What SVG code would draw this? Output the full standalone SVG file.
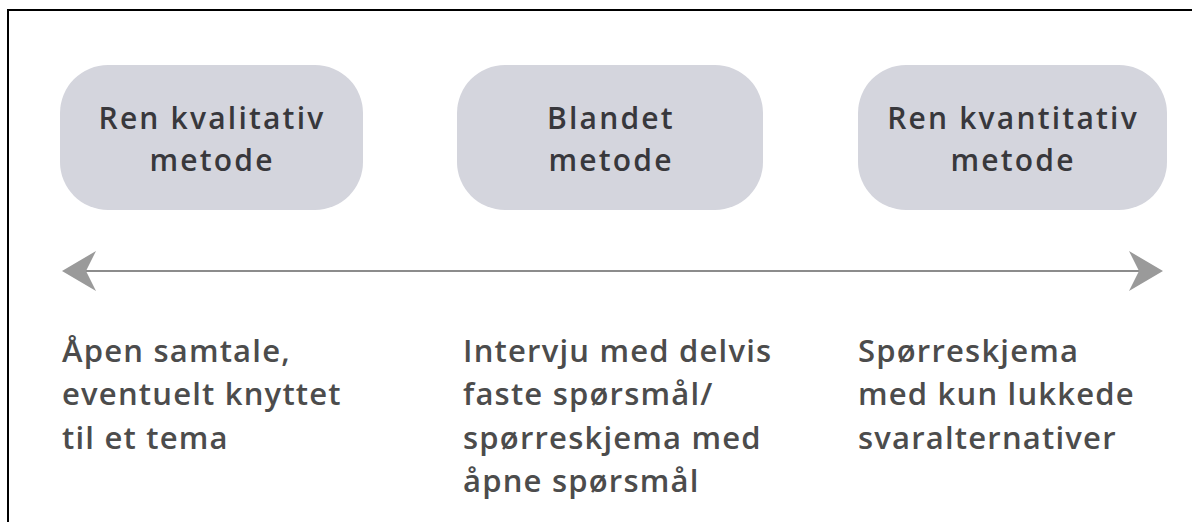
<svg xmlns="http://www.w3.org/2000/svg" width="1192" height="522" viewBox="0 0 1192 522">
<style>
.box{fill:#d4d5dd}
.bt{font-family:"Open Sans","Noto Sans",sans-serif;font-size:30px;font-weight:600;letter-spacing:2.2px;fill:#38383c;text-anchor:middle}
.lt{font-family:"Open Sans","Noto Sans",sans-serif;font-size:31px;font-weight:600;letter-spacing:1.2px;fill:#4c4c4c}
.ax{stroke:#8c8c8c;stroke-width:2.2;fill:none}
.ah{fill:#9a9a9a}
</style>
<rect width="1192" height="522" fill="#fff"/>
<path d="M8 522 V10 H1192" fill="none" stroke="#000" stroke-width="2"/>
<g id="node-kvalitativ">
<rect class="box" x="60" y="65" width="303" height="145" rx="48"/>
<text class="bt" x="212" y="129">Ren kvalitativ</text>
<text class="bt" x="212" y="171">metode</text>
</g>
<g id="node-blandet">
<rect class="box" x="457" y="65" width="306" height="145" rx="48"/>
<text class="bt" x="611" y="129">Blandet</text>
<text class="bt" x="611" y="171">metode</text>
</g>
<g id="node-kvantitativ">
<rect class="box" x="858" y="65" width="309" height="145" rx="48"/>
<text class="bt" x="1013" y="129">Ren kvantitativ</text>
<text class="bt" x="1013" y="171">metode</text>
</g>
<g id="connectors">
<line class="ax" x1="80" y1="271" x2="1145" y2="271"/>
<path class="ah" d="M62 271 L96 251 L86 271 L96 291 Z"/>
<path class="ah" d="M1163 271 L1129 251 L1139 271 L1129 291 Z"/>
</g>
<g id="label-left">
<text class="lt" x="62" y="362">Åpen samtale,</text>
<text class="lt" x="62" y="405">eventuelt knyttet</text>
<text class="lt" x="62" y="449">til et tema</text>
</g>
<g id="label-middle">
<text class="lt" x="463" y="362">Intervju med delvis</text>
<text class="lt" x="463" y="405">faste spørsmål/</text>
<text class="lt" x="463" y="449">spørreskjema med</text>
<text class="lt" x="463" y="492">åpne spørsmål</text>
</g>
<g id="label-right">
<text class="lt" x="858" y="362">Spørreskjema</text>
<text class="lt" x="858" y="405">med kun lukkede</text>
<text class="lt" x="858" y="449">svaralternativer</text>
</g>
</svg>
